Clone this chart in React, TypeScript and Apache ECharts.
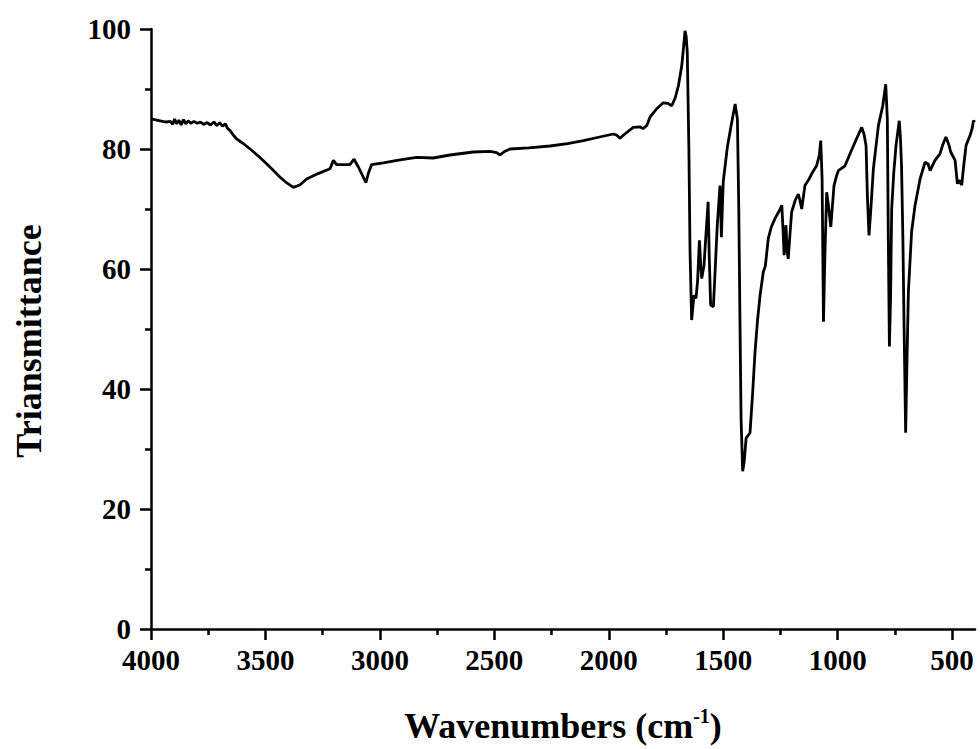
import React, { useEffect, useRef } from "react";
import * as echarts from "echarts";

const wavenumbers: number[] = [
  4000, 3985, 3960, 3935, 3915, 3905, 3897, 3888, 3878, 3868, 3858, 3848, 3838, 3826, 3812, 3798, 3784, 3770, 3755, 3740,
  3725, 3712, 3700, 3688, 3675, 3665, 3655, 3640, 3626, 3600, 3567, 3530, 3494, 3465, 3436, 3405, 3378, 3350, 3320, 3270,
  3218, 3203, 3189, 3150, 3131, 3113, 3094, 3075, 3061, 3050, 3036, 2985, 2912, 2839, 2767, 2694, 2592, 2519, 2490, 2475,
  2455, 2432, 2350, 2257, 2180, 2111, 2040, 1980, 1965, 1951, 1930, 1893, 1864, 1851, 1834, 1820, 1791, 1762, 1742, 1725,
  1710, 1696, 1681, 1672, 1667, 1662, 1657, 1650, 1645, 1638, 1633, 1628, 1619, 1612, 1604, 1598, 1594, 1584, 1575, 1566,
  1561, 1555, 1543, 1535, 1526, 1514, 1511, 1508, 1504, 1500, 1482, 1465, 1448, 1438, 1432, 1427, 1422, 1415, 1408, 1400,
  1390, 1383, 1372, 1361, 1350, 1339, 1325, 1316, 1303, 1290, 1274, 1255, 1244, 1238, 1234, 1230, 1226, 1221, 1216, 1208,
  1201, 1185, 1172, 1165, 1157, 1150, 1143, 1125, 1113, 1092, 1080, 1074, 1068, 1062, 1056, 1048, 1040, 1030, 1022, 1016,
  1005, 997, 968, 946, 920, 895, 885, 876, 870, 863, 855, 844, 822, 803, 790, 783, 779, 774, 769, 764,
  755, 745, 731, 726, 721, 715, 710, 703, 697, 691, 677, 662, 640, 618, 605, 596, 575, 553, 540, 527,
  515, 506, 487, 477, 470, 466, 458, 450, 439, 422, 412, 407, 400,
];

const transmittance: number[] = [
  85.0, 84.9, 84.7, 84.5, 84.6, 84.1, 85.0, 84.2, 84.8, 84.0, 84.9, 84.2, 84.7, 84.3, 84.6, 84.3, 84.5, 84.1, 84.4, 84.0,
  84.5, 83.9, 84.4, 83.8, 84.2, 83.4, 83.1, 82.3, 81.7, 81.0, 80.0, 78.8, 77.5, 76.4, 75.3, 74.3, 73.6, 74.0, 75.0, 75.9,
  76.7, 78.1, 77.4, 77.4, 77.4, 78.3, 77.0, 75.5, 74.4, 76.0, 77.4, 77.7, 78.2, 78.6, 78.5, 79.0, 79.5, 79.6, 79.4, 79.0,
  79.6, 80.0, 80.2, 80.5, 80.9, 81.4, 82.0, 82.5, 82.3, 81.8, 82.5, 83.6, 83.7, 83.4, 83.9, 85.3, 86.7, 87.7, 87.6, 87.2,
  88.5, 90.5, 93.9, 97.5, 99.7, 98.8, 96.1, 80.0, 62.9, 51.5, 53.5, 55.6, 55.1, 58.0, 64.8, 60.5, 58.4, 60.6, 66.0, 71.2,
  62.0, 54.0, 53.7, 60.0, 67.3, 73.9, 70.0, 65.3, 70.0, 74.5, 80.3, 84.0, 87.5, 85.0, 70.0, 51.8, 35.0, 26.3, 28.0, 31.8,
  32.3, 32.7, 39.0, 46.2, 51.5, 55.6, 59.5, 60.5, 65.1, 67.0, 68.4, 69.7, 70.6, 66.0, 62.3, 65.0, 67.3, 63.0, 61.7, 66.0,
  69.5, 71.5, 72.5, 71.5, 70.0, 72.0, 73.9, 75.0, 75.9, 77.2, 79.0, 81.4, 75.0, 51.2, 62.0, 72.8, 70.5, 67.0, 71.0, 73.9,
  75.5, 76.4, 77.2, 79.2, 81.5, 83.6, 82.5, 80.6, 72.0, 65.6, 70.0, 76.7, 83.9, 87.2, 90.8, 85.0, 66.2, 47.1, 55.0, 70.0,
  76.0, 80.6, 84.7, 82.0, 77.2, 65.0, 50.7, 32.7, 45.0, 56.2, 66.2, 70.6, 75.0, 77.8, 77.5, 76.4, 78.1, 79.2, 80.8, 82.0,
  80.8, 79.5, 78.1, 74.2, 74.8, 74.5, 74.0, 77.0, 80.6, 82.2, 83.5, 84.7, 84.5,
];

const xMajorTicks: number[] = [500, 1000, 1500, 2000, 2500, 3000, 3500, 4000];
const xMinorTicks: number[] = [750, 1250, 1750, 2250, 2750, 3250, 3750];

const FONT = '"Liberation Serif", "Times New Roman", serif';

export default function App() {
  const ref = useRef<HTMLDivElement>(null);

  useEffect(() => {
    if (!ref.current) return;
    const chart = echarts.init(ref.current, null, { renderer: "svg" });
    const data = wavenumbers.map((w, i) => [w, transmittance[i]]);
    const axisColor = "#000";
    chart.setOption({
      animation: false,
      backgroundColor: "#fff",
      grid: { left: 151, right: 5, top: 29, bottom: 117 },
      xAxis: [
        {
          type: "value",
          inverse: true,
          min: 400,
          max: 4000,
          position: "bottom",
          offset: 0,
          name: "{a|Wavenumbers (cm}{s|-1}{a|)}",
          nameLocation: "middle",
          nameGap: 77,
          nameTextStyle: {
            fontFamily: FONT,
            fontWeight: "bold",
            fontSize: 36,
            color: "#000",
            rich: {
              a: { fontFamily: FONT, fontWeight: "bold", fontSize: 36, color: "#000", lineHeight: 40 },
              s: { fontFamily: FONT, fontWeight: "bold", fontSize: 20, color: "#000", verticalAlign: "top", lineHeight: 24 },
            },
          },
          axisLine: { show: true, onZero: false, lineStyle: { color: axisColor, width: 2.5 } },
          axisTick: { show: true, customValues: xMajorTicks, length: 11, lineStyle: { color: axisColor, width: 2.5 } },
          axisLabel: {
            show: true,
            customValues: xMajorTicks,
            formatter: (v: number) => String(v),
            fontFamily: FONT,
            fontWeight: "bold",
            fontSize: 29,
            color: "#000",
            margin: 16,
          },
          splitLine: { show: false },
        },
        {
          type: "value",
          inverse: true,
          min: 400,
          max: 4000,
          position: "bottom",
          offset: 0,
          axisLine: { show: false },
          axisTick: { show: true, customValues: xMinorTicks, length: 6, lineStyle: { color: axisColor, width: 2.5 } },
          axisLabel: { show: false },
          splitLine: { show: false },
        },
      ],
      yAxis: {
        type: "value",
        min: 0,
        max: 100,
        interval: 20,
        name: "Triansmittance",
        nameLocation: "middle",
        nameGap: 104,
        nameTextStyle: { fontFamily: FONT, fontWeight: "bold", fontSize: 36, color: "#000", padding: [0, 24, 0, 0] },
        axisLine: { show: true, onZero: false, lineStyle: { color: axisColor, width: 2.5 } },
        axisTick: { show: true, length: 11, lineStyle: { color: axisColor, width: 2.5 } },
        minorTick: { show: true, splitNumber: 2, length: 6, lineStyle: { color: axisColor, width: 2.5 } },
        axisLabel: {
          formatter: (v: number) => String(v),
          fontFamily: FONT,
          fontWeight: "bold",
          fontSize: 29,
          color: "#000",
          margin: 20,
        },
        splitLine: { show: false },
        minorSplitLine: { show: false },
      },
      series: [
        {
          type: "line",
          xAxisIndex: 0,
          data,
          showSymbol: false,
          symbol: "none",
          lineStyle: { color: "#000", width: 2.8 },
          emphasis: { disabled: true },
        },
      ],
    });
    return () => chart.dispose();
  }, []);

  return (
    <div
      ref={ref}
      style={{ position: "absolute", left: 0, top: 0, width: 980, height: 749, background: "#fff" }}
    />
  );
}
